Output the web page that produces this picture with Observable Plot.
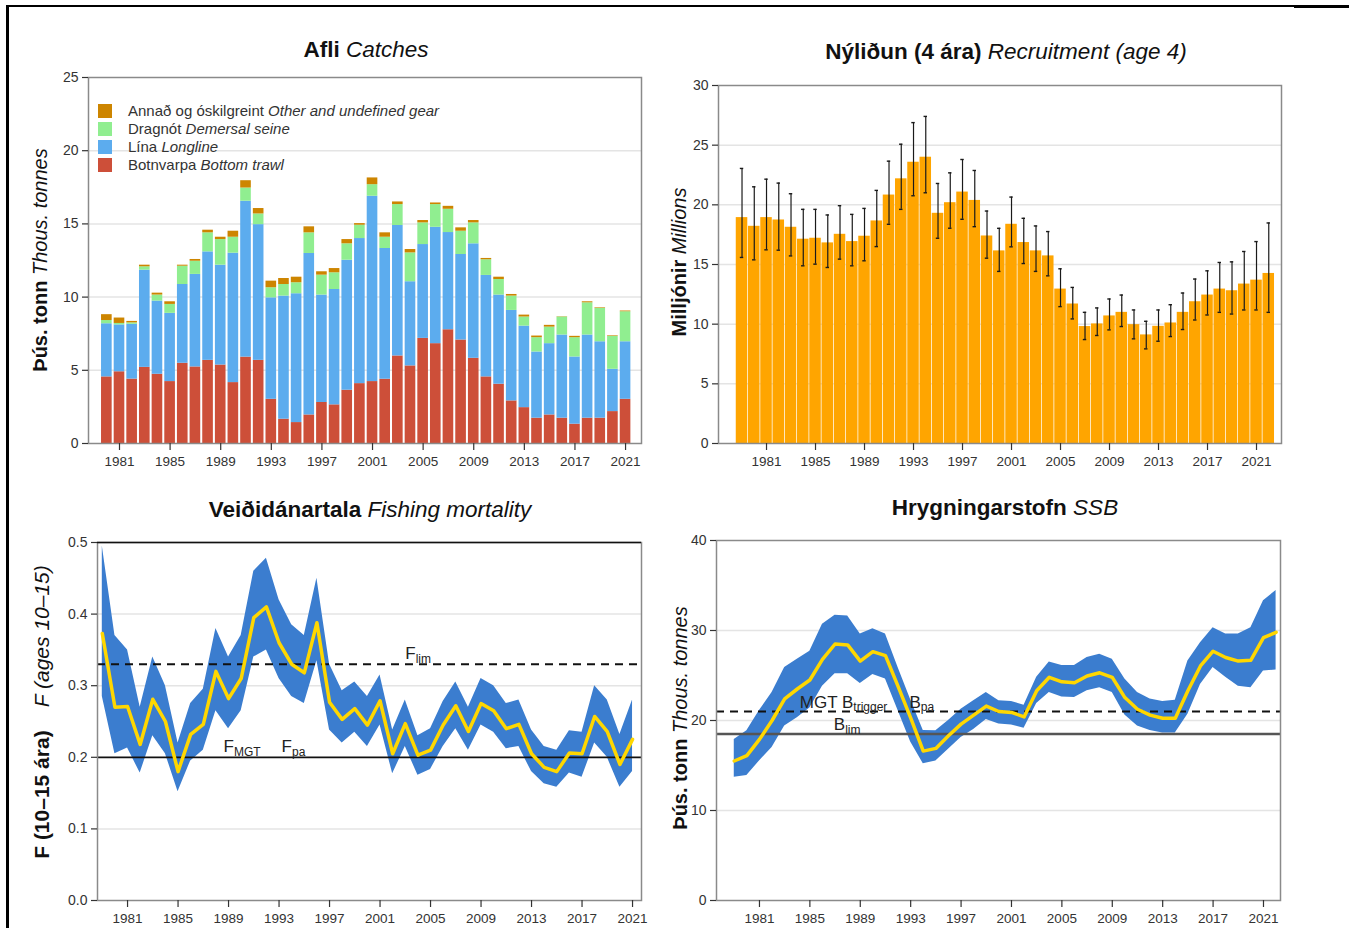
<!DOCTYPE html>
<html>
<head>
<meta charset="utf-8">
<script src="https://cdn.jsdelivr.net/npm/d3@7"></script>
<script src="https://cdn.jsdelivr.net/npm/@observablehq/plot@0.6"></script>
<style>
  body { margin: 0; background: #fff; font-family: "Liberation Sans", Arial, sans-serif; }
  #page { position: relative; width: 1349px; height: 928px; overflow: hidden; background: #fff; }
  .abs { position: absolute; }
  .title { font-size: 22.5px; font-weight: bold; color: #111; white-space: nowrap; transform: translate(-50%, -50%); }
  .title i, .ylab i { font-weight: normal; }
  .ylab { font-size: 20px; font-weight: bold; color: #111; white-space: nowrap; transform: translate(-50%, -50%) rotate(-90deg); }
  .ylab.wide { font-size: 21px; }
  .ylab i.gap { margin-left: 1.1em; }
  .leg { font-size: 15px; color: #333; white-space: nowrap; line-height: 18px; }
  .leg span.sw { display: inline-block; width: 14px; height: 14px; vertical-align: -2px; margin-right: 16px; }
  .rule { background: #000; }
</style>
</head>
<body>
<div id="page"></div>
<script>
// ---- Catches by gear (thousand tonnes), 1980–2021 ----
const catchYears = d3.range(1980, 2022);
const catchTrawl = [4.55,4.9,4.4,5.2,4.73,4.23,5.48,5.23,5.68,5.36,4.16,5.9,5.68,3.02,1.66,1.43,1.95,2.8,2.64,3.64,4.09,4.23,4.39,5.98,5.3,7.18,6.82,7.77,7.07,5.82,4.55,4.05,2.91,2.45,1.73,1.95,1.73,1.32,1.73,1.73,2.18,3.02];
const catchLongline = [3.63,3.2,3.74,6.64,5.0,4.66,5.38,6.32,7.41,6.82,8.84,10.65,9.27,6.93,8.41,8.8,11.03,7.34,7.88,8.88,9.91,12.66,8.93,8.91,5.75,6.41,7.95,6.64,5.84,7.82,6.93,6.09,6.18,5.57,4.52,4.87,5.68,4.59,5.68,5.22,2.89,3.93];
const catchSeine = [0.22,0.1,0.1,0.23,0.41,0.61,1.25,0.9,1.3,1.75,1.09,0.9,0.73,0.69,0.79,0.75,1.41,1.36,1.14,1.12,0.91,0.79,0.77,1.43,1.97,1.48,1.55,1.59,1.59,1.43,1.07,1.06,0.98,0.62,0.98,1.13,1.23,1.32,2.2,2.28,2.25,2.05];
const catchOther = [0.4,0.37,0.1,0.11,0.13,0.18,0.07,0.12,0.18,0.16,0.41,0.5,0.37,0.45,0.41,0.38,0.41,0.23,0.29,0.29,0.11,0.46,0.3,0.18,0.23,0.16,0.11,0.2,0.23,0.16,0.09,0.16,0.11,0.13,0.11,0.12,0.02,0.09,0.07,0.04,0.04,0.05];
const gearKeys = ["trawl", "longline", "seine", "other"];
const gearColors = ["#CD4F39", "#5CACEE", "#90EE90", "#CD8500"];
const gearLabels = [
  ["Annað og óskilgreint", "Other and undefined gear", "#CD8500"],
  ["Dragnót", "Demersal seine", "#90EE90"],
  ["Lína", "Longline", "#5CACEE"],
  ["Botnvarpa", "Bottom trawl", "#CD4F39"]
];

// ---- Recruitment at age 4 (millions), 1979–2022, with interval ----
const recYears = d3.range(1979, 2023);
const recValue = [18.93,18.2,18.93,18.73,18.12,17.12,17.2,16.81,17.53,16.92,17.37,18.65,20.82,22.18,23.57,23.99,19.29,20.18,21.07,20.37,17.39,16.14,18.37,16.84,16.14,15.72,12.94,11.69,9.8,10.02,10.69,10.99,9.96,9.1,9.82,10.1,10.99,11.88,12.44,12.94,12.8,13.36,13.69,14.25];
const recLow = [15.59,15.39,16.23,16.2,15.72,14.89,15.03,14.75,15.45,14.89,15.31,16.5,18.37,19.62,20.76,21.01,17.2,18.04,18.79,18.17,15.53,14.42,16.48,15.08,14.42,14.05,11.47,10.44,8.71,9.05,9.52,9.8,8.77,7.93,8.57,8.96,9.55,10.35,10.77,10.99,10.85,11.19,11.19,10.99];
const recHigh = [23.05,21.51,22.15,21.82,20.93,19.62,19.62,19.15,19.93,19.2,19.7,21.21,23.66,25.08,26.89,27.41,21.79,22.68,23.8,22.88,19.48,18.03,20.65,18.87,18.23,17.76,14.64,13.08,10.99,11.36,12.11,12.44,11.19,10.24,11.19,11.63,12.61,13.78,14.47,15.17,15.22,16.09,16.92,18.48];

// ---- Fishing mortality (ages 10–15), 1979–2021, with interval ----
const fYears = d3.range(1979, 2022);
const fValue = [0.373,0.27,0.271,0.218,0.281,0.25,0.18,0.232,0.246,0.32,0.282,0.31,0.395,0.41,0.36,0.33,0.318,0.388,0.277,0.253,0.268,0.245,0.279,0.205,0.247,0.203,0.21,0.245,0.272,0.236,0.275,0.265,0.24,0.246,0.205,0.186,0.18,0.206,0.205,0.257,0.236,0.19,0.225];
const fHigh = [0.495,0.37,0.35,0.27,0.34,0.30,0.22,0.275,0.295,0.38,0.34,0.37,0.46,0.478,0.42,0.385,0.37,0.45,0.33,0.293,0.305,0.285,0.315,0.238,0.28,0.23,0.24,0.278,0.305,0.27,0.31,0.30,0.275,0.28,0.238,0.215,0.21,0.237,0.235,0.30,0.28,0.232,0.28];
const fLow = [0.285,0.205,0.213,0.178,0.23,0.205,0.152,0.195,0.21,0.265,0.24,0.265,0.34,0.35,0.31,0.285,0.275,0.335,0.238,0.22,0.235,0.215,0.245,0.177,0.215,0.175,0.183,0.215,0.24,0.21,0.245,0.235,0.212,0.215,0.18,0.163,0.158,0.178,0.172,0.22,0.2,0.158,0.18];
const fLim = 0.33, fMgt = 0.2;

// ---- Spawning stock biomass (thousand tonnes), 1979–2022, with interval ----
const ssbYears = d3.range(1979, 2023);
const ssbValue = [15.5,16.1,17.9,20.0,22.4,23.5,24.5,26.8,28.5,28.4,26.6,27.65,27.2,23.8,20.3,16.6,16.9,18.3,19.6,20.6,21.6,21.0,20.9,20.4,23.3,24.8,24.3,24.2,24.95,25.3,24.8,22.55,21.25,20.6,20.25,20.25,23.3,26.06,27.7,27.0,26.6,26.7,29.2,29.8];
const ssbHigh = [17.9,18.85,21.1,23.1,25.9,26.8,27.7,30.7,31.7,31.6,29.6,30.2,29.6,25.9,22.3,18.9,18.85,20.0,21.25,22.2,23.1,22.2,22.1,21.7,24.8,26.5,26.1,26.1,27.0,27.35,26.8,24.6,23.1,22.4,22.1,22.25,26.6,28.65,30.3,29.6,29.6,30.3,33.3,34.45];
const ssbLow = [13.7,13.9,15.5,17.0,19.4,20.3,21.4,23.8,25.2,25.2,24.1,25.1,24.6,21.1,17.6,15.2,15.5,16.8,18.1,19.0,20.1,19.6,19.5,19.15,21.9,23.1,22.6,22.55,23.3,23.65,23.1,20.6,19.4,18.9,18.6,18.6,20.7,24.0,25.9,24.8,23.8,23.65,25.5,25.6];
const bTrigger = 21, bLim = 18.5;

// Shared tick years along the time axes
const tickYears = d3.range(1981, 2022, 4);

// ---- Tables built from the arrays above ----
const gearSeries = [catchTrawl, catchLongline, catchSeine, catchOther];
const catchRows = [];
catchYears.forEach((year, i) => {
  let base = 0;
  gearKeys.forEach((g, k) => {
    const v = gearSeries[k][i];
    catchRows.push({year, gear: g, y1: base, y2: base + v});
    base += v;
  });
});
const recRows = recYears.map((year, i) => ({year, value: recValue[i], lo: recLow[i], hi: recHigh[i]}));
const fRows = fYears.map((year, i) => ({year, value: fValue[i], lo: fLow[i], hi: fHigh[i]}));
const ssbRows = ssbYears.map((year, i) => ({year, value: ssbValue[i], lo: ssbLow[i], hi: ssbHigh[i]}));
const fRefLabels = [
  {year: 2003, value: fLim, label: "F_lim"},
  {year: 1988.6, value: fMgt, label: "F_MGT"},
  {year: 1993.2, value: fMgt, label: "F_pa"}
];
const bRefLabels = [
  {year: 1984.2, value: bTrigger, label: "MGT B_trigger"},
  {year: 1992.9, value: bTrigger, label: "B_pa"},
  {year: 1986.9, value: bLim, label: "B_lim"}
];

const page = document.getElementById("page");
const M = {left: 50, right: 12, top: 12, bottom: 36};
const baseStyle = {fontFamily: "Liberation Sans, Arial, sans-serif", fontSize: "13.5px", color: "#333", background: "transparent", overflow: "visible"};

// Panel geometry: inner frame in page pixels
function panel(frame, opts) {
  const w = frame.x1 - frame.x0, h = frame.y1 - frame.y0;
  const svg = Plot.plot({
    width: w + M.left + M.right,
    height: h + M.top + M.bottom,
    marginLeft: M.left, marginRight: M.right, marginTop: M.top, marginBottom: M.bottom,
    style: baseStyle,
    ...opts
  });
  svg.style.position = "absolute";
  svg.style.left = (frame.x0 - M.left) + "px";
  svg.style.top = (frame.y0 - M.top) + "px";
  page.appendChild(svg);
  return svg;
}

function xAxis() {
  return Plot.axisX({anchor: "bottom", ticks: tickYears, tickFormat: "d", tickSize: 7, tickPadding: 6, stroke: "#333", strokeWidth: 1.2, fontSize: 13.5});
}
function yAxis(ticks, fmt) {
  return Plot.axisY({anchor: "left", ticks, tickFormat: fmt, tickSize: 6, tickPadding: 4, stroke: "#333", strokeWidth: 1.2, fontSize: 14});
}

// Subscripted reference-line labels: "X_sub" -> X with subscript
function subscriptLabels(svg) {
  d3.select(svg).selectAll("text").each(function () {
    const t = this.textContent;
    if (this.childElementCount === 0 && t.includes("_")) {
      const [main, sub] = t.split("_");
      const sel = d3.select(this).text(null);
      sel.append("tspan").text(main);
      sel.append("tspan").attr("dy", "0.3em").attr("font-size", "12px").text(sub);
    }
  });
}

// ---- Afli / Catches ----
panel({x0: 88, x1: 641, y0: 77, y1: 443}, {
  x: {domain: [1978.55, 2022.26], label: null},
  y: {domain: [0, 25], label: null},
  color: {domain: gearKeys, range: gearColors},
  marks: [
    Plot.gridY([5, 10, 15, 20], {stroke: "#e4e4e4", strokeOpacity: 1, strokeWidth: 1.5}),
    Plot.rect(catchRows, {x1: d => d.year - 0.42, x2: d => d.year + 0.42, y1: "y1", y2: "y2", fill: "gear"}),
    Plot.frame({stroke: "#8a8a8a", strokeWidth: 1.5}),
    xAxis(),
    yAxis([0, 5, 10, 15, 20, 25], "d")
  ]
});

// ---- Nýliðun / Recruitment ----
panel({x0: 718, x1: 1281, y0: 85, y1: 443}, {
  x: {domain: [1977.08, 2023.04], label: null},
  y: {domain: [0, 30], label: null},
  marks: [
    Plot.gridY([5, 10, 15, 20, 25], {stroke: "#e4e4e4", strokeOpacity: 1, strokeWidth: 1.5}),
    Plot.rect(recRows, {x1: d => d.year - 0.47, x2: d => d.year + 0.47, y1: 0, y2: "value", fill: "#FFA500"}),
    Plot.ruleX(recRows, {x: "year", y1: "lo", y2: "hi", stroke: "#1a1a1a", strokeWidth: 1.2}),
    Plot.ruleY(recRows, {y: "hi", x1: d => d.year - 0.14, x2: d => d.year + 0.14, stroke: "#1a1a1a", strokeWidth: 1.4}),
    Plot.ruleY(recRows, {y: "lo", x1: d => d.year - 0.14, x2: d => d.year + 0.14, stroke: "#1a1a1a", strokeWidth: 1.4}),
    Plot.frame({stroke: "#8a8a8a", strokeWidth: 1.5}),
    xAxis(),
    yAxis([0, 5, 10, 15, 20, 25, 30], "d")
  ]
});

// ---- Veiðidánartala / Fishing mortality ----
const fSvg = panel({x0: 97, x1: 641, y0: 542, y1: 900}, {
  x: {domain: [1978.62, 2021.71], label: null},
  y: {domain: [0, 0.5], label: null},
  marks: [
    Plot.gridY([0.1, 0.3, 0.4], {stroke: "#e4e4e4", strokeOpacity: 1, strokeWidth: 1.5}),
    Plot.areaY(fRows, {x: "year", y1: "lo", y2: "hi", fill: "#3B7DCF"}),
    Plot.ruleY([fLim], {stroke: "#111", strokeWidth: 2, strokeDasharray: "8,6"}),
    Plot.ruleY([fMgt], {stroke: "#111", strokeWidth: 1.8}),
    Plot.line(fRows, {x: "year", y: "value", stroke: "#FFD700", strokeWidth: 3.5, strokeLinejoin: "round"}),
    Plot.text(fRefLabels, {x: "year", y: "value", text: "label", textAnchor: "start", lineAnchor: "bottom", dy: -5, fontSize: 17, fill: "#222"}),
    Plot.frame({stroke: "#8a8a8a", strokeWidth: 1.5}),
    Plot.ruleY([0.5], {stroke: "#111", strokeWidth: 1.5}),
    xAxis(),
    yAxis([0, 0.1, 0.2, 0.3, 0.4, 0.5], d3.format(".1f"))
  ]
});
subscriptLabels(fSvg);

// ---- Hrygningarstofn / SSB ----
const bSvg = panel({x0: 716, x1: 1280, y0: 540, y1: 900}, {
  x: {domain: [1977.59, 2022.35], label: null},
  y: {domain: [0, 40], label: null},
  marks: [
    Plot.gridY([10, 20, 30], {stroke: "#e4e4e4", strokeOpacity: 1, strokeWidth: 1.5}),
    Plot.areaY(ssbRows, {x: "year", y1: "lo", y2: "hi", fill: "#3B7DCF"}),
    Plot.ruleY([bTrigger], {stroke: "#111", strokeWidth: 2, strokeDasharray: "8,6"}),
    Plot.ruleY([bLim], {stroke: "#555", strokeWidth: 2.5}),
    Plot.line(ssbRows, {x: "year", y: "value", stroke: "#FFD700", strokeWidth: 3.5, strokeLinejoin: "round"}),
    Plot.text(bRefLabels, {x: "year", y: "value", text: "label", textAnchor: "start", lineAnchor: "bottom", dy: -4, fontSize: 17, fill: "#222"}),
    Plot.frame({stroke: "#8a8a8a", strokeWidth: 1.5}),
    xAxis(),
    yAxis([0, 10, 20, 30, 40], "d")
  ]
});
subscriptLabels(bSvg);

// ---- Titles, axis titles, legend and page rules ----
function html(cls, x, y, inner) {
  const el = document.createElement("div");
  el.className = "abs " + cls;
  el.style.left = x + "px";
  el.style.top = y + "px";
  el.innerHTML = inner;
  page.appendChild(el);
  return el;
}
html("title", 366, 50, "Afli <i>Catches</i>");
html("title", 1006, 52, "Nýliðun (4 ára) <i>Recruitment (age 4)</i>");
html("title", 370, 510, "Veiðidánartala <i>Fishing mortality</i>");
html("title", 1005, 508, "Hrygningarstofn <i>SSB</i>");

html("ylab", 40, 260, "Þús. tonn <i>Thous. tonnes</i>");
html("ylab", 679, 262, "Milljónir <i>Millions</i>");
html("ylab wide", 42, 712, "F (10–15 ára)<i class=\"gap\">F (ages 10–15)</i>");
html("ylab", 680, 718, "Þús. tonn <i>Thous. tonnes</i>");

const legend = html("leg", 98, 102, "");
gearLabels.forEach(([is, en, col]) => {
  const row = document.createElement("div");
  row.innerHTML = `<span class="sw" style="background:${col}"></span>${is} <i>${en}</i>`;
  legend.appendChild(row);
});

// page border rules
const r1 = html("rule", 6, 5, ""); r1.style.width = "1343px"; r1.style.height = "2px";
const r2 = html("rule", 1294, 5, ""); r2.style.width = "55px"; r2.style.height = "3px";
const r3 = html("rule", 6, 5, ""); r3.style.width = "2.5px"; r3.style.height = "923px";
</script>
</body>
</html>
